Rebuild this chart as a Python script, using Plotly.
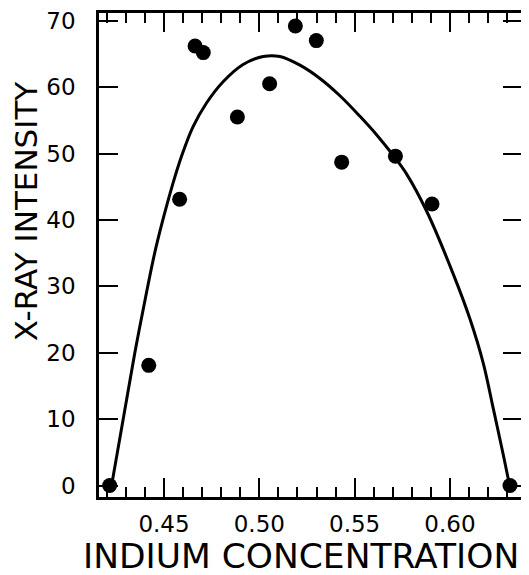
import plotly.graph_objects as go

# Measured data points
conc = [0.4215, 0.4420, 0.4582, 0.4663, 0.4706, 0.4885, 0.5054, 0.5189, 0.5299, 0.5432, 0.5714, 0.5906, 0.6315]
intensity = [0.0, 18.1, 43.1, 66.2, 65.2, 55.5, 60.5, 69.2, 67.0, 48.7, 49.6, 42.4, 0.0]

# Fitted curve
curve_x = [0.4225, 0.4286, 0.4347, 0.4390, 0.4451, 0.4495, 0.4547, 0.4591, 0.4652, 0.4723,
           0.4810, 0.4915, 0.5020, 0.5108, 0.5213, 0.5318, 0.5423, 0.5528, 0.5616, 0.5703,
           0.5773, 0.5878, 0.6018, 0.6106, 0.6175, 0.6228, 0.6280, 0.6313]
curve_y = [0.0, 10.0, 20.0, 26.4, 35.0, 40.1, 45.5, 49.5, 54.0, 57.6,
           60.8, 63.4, 64.6, 64.6, 63.3, 61.3, 58.7, 55.6, 52.8, 49.7,
           46.9, 41.3, 31.8, 25.0, 18.4, 11.5, 4.6, 0.0]

x_ticks = [0.45, 0.50, 0.55, 0.60]
x_tick_labels = ["0.45", "0.50", "0.55", "0.60"]
y_ticks = [0, 10, 20, 30, 40, 50, 60, 70]
y_tick_labels = ["0", "10", "20", "30", "40", "50", "60", "70"]
x_title = "INDIUM CONCENTRATION"
y_title = "X-RAY INTENSITY"

fig = go.Figure()
fig.add_trace(go.Scatter(x=curve_x, y=curve_y, mode="lines",
                         line=dict(color="black", width=3, shape="spline", smoothing=1.0),
                         hoverinfo="skip", showlegend=False))
fig.add_trace(go.Scatter(x=conc, y=intensity, mode="markers",
                         marker=dict(color="black", size=15), showlegend=False))

font_family = "DejaVu Sans, Liberation Sans, Arial, sans-serif"
# the page body adds an 8px offset; the figure is sized to fit inside the window
fig.update_layout(
    width=521, height=567,
    margin=dict(l=91, r=7, t=5, b=78),
    paper_bgcolor="white", plot_bgcolor="white",
    font=dict(family=font_family, color="black"),
)
fig.update_xaxes(
    range=[0.4159, 0.6378], automargin=False,
    tickvals=x_ticks, ticktext=x_tick_labels,
    ticks="inside", ticklen=19, tickwidth=2, tickcolor="black",
    minor=dict(dtick=0.01, tick0=0.40, ticks="inside", ticklen=10, tickwidth=2, tickcolor="black", showgrid=False),
    showline=True, linewidth=2.5, linecolor="black", mirror="allticks",
    showgrid=False, zeroline=False,
    tickfont=dict(size=23), ticklabelstandoff=5, ticklabeloverflow="allow",
)
fig.update_yaxes(
    range=[-1.73, 71.16], automargin=False,
    tickvals=y_ticks, ticktext=y_tick_labels,
    ticks="inside", ticklen=19, tickwidth=2, tickcolor="black",
    showline=True, linewidth=2.5, linecolor="black", mirror="allticks",
    showgrid=False, zeroline=False,
    tickfont=dict(size=23), ticklabelstandoff=16, ticklabeloverflow="allow",
)
fig.add_annotation(text=x_title, xref="paper", yref="paper", x=0.4775, y=-0.122,
                   xanchor="center", yanchor="middle", showarrow=False,
                   font=dict(size=34.5, family=font_family, color="black"))
fig.add_annotation(text=y_title, xref="paper", yref="paper", x=-0.172, y=0.591,
                   xanchor="center", yanchor="middle", showarrow=False, textangle=-90,
                   font=dict(size=31, family=font_family, color="black"))

fig.write_html("out.html")
